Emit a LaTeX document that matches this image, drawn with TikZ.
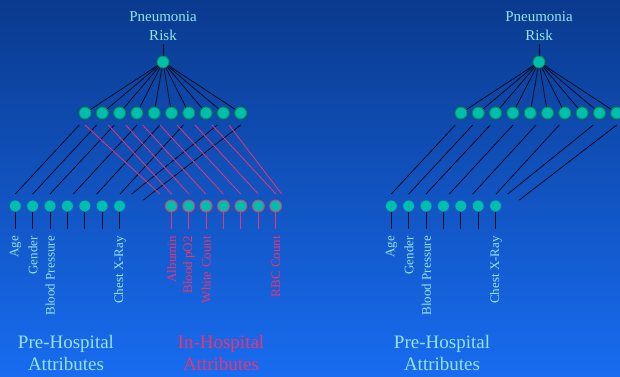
\documentclass[tikz,border=0pt]{standalone}
\usepackage{fontspec}
\setmainfont{Liberation Serif}

\definecolor{bgtop}{RGB}{10,58,142}
\definecolor{bgbot}{RGB}{24,108,240}
\definecolor{unitfill}{RGB}{0,190,172}
\definecolor{hidring}{RGB}{10,140,70}
\definecolor{inring}{RGB}{25,95,190}
\definecolor{rose}{RGB}{236,52,112}
\definecolor{aqua}{RGB}{150,228,236}
\definecolor{wirecol}{RGB}{5,10,35}

\tikzset{
  unit/.style={circle, fill=unitfill, minimum size=12pt, inner sep=0pt, line width=0.9pt},
  hid/.style={unit, draw=hidring},
  pre/.style={unit, draw=inring},
  inh/.style={unit, draw=rose},
  wire/.style={draw=wirecol, line width=0.8pt},
  stub/.style={draw=wirecol, line width=1.1pt},
  rosewire/.style={draw=rose, line width=0.8pt},
  rosestub/.style={draw=rose, line width=1.1pt},
  title/.style={text=aqua, align=center, inner sep=0pt, font=\fontsize{15}{19}\selectfont},
  attr/.style={rotate=90, anchor=east, inner sep=0pt, font=\fontsize{13}{15}\selectfont},
  group/.style={align=center, inner sep=0pt, font=\fontsize{19}{22}\selectfont},
}

\begin{document}
\begin{tikzpicture}[x=1pt,y=-1pt]
  % backdrop
  \shade[top color=bgtop, bottom color=bgbot] (0,0) rectangle (620,376);
  \useasboundingbox (0,0) rectangle (620,376);

  % two networks: with in-hospital inputs (L) and pre-hospital only (R)
  \foreach \p/\dx in {L/0, R/376} {
    \begin{scope}[xshift=\dx pt]
      % output unit and its label
      \node[title] (\p title) at (163,26) {Pneumonia\\Risk};
      \node[hid] (\p t) at (163,62) {};
      \coordinate (\p tt) at (163,44);
      \draw[wire] (\p t) -- (\p tt);

      % hidden layer
      \foreach \k in {1,...,10} {
        \node[hid] (\p h\k) at ({85+17.3*(\k-1)},113) {};
        \draw[wire] (\p t) -- (\p h\k);
      }

      % pre-hospital inputs with their stubs
      \foreach \k in {1,...,7} {
        \node[pre] (\p i\k) at ({15.3+17.38*(\k-1)},206) {};
        \coordinate (\p s\k) at ({15.3+17.38*(\k-1)},229);
        \draw[stub] (\p i\k) -- (\p s\k);
      }

      % loose weights running down-left
      \foreach \a/\b/\y [count=\n] in {79.3/15.3/194, 96.7/32.7/194, 114.3/50/194,
          137/73.3/194, 160/96.7/194, 183.3/120/194, 217.3/131.7/194, 240.7/143.3/200} {
        \coordinate (\p wa\n) at (\a,125);
        \coordinate (\p wb\n) at (\b,\y);
        \draw[wire] (\p wa\n) -- (\p wb\n);
      }

      % input labels
      \node[attr, text=aqua] (\p age) at (15.6,236) {Age};
      \node[attr, text=aqua] (\p gen) at (33,236) {Gender};
      \node[attr, text=aqua] (\p bp)  at (50.3,236) {Blood Pressure};
      \node[attr, text=aqua] (\p cx)  at (120,236) {Chest X-Ray};

      \node[group, text=aqua] (\p grp) at (66,352.5) {Pre-Hospital\\Attributes};
    \end{scope}
  }

  % in-hospital inputs (left network only)
  \foreach \k in {1,...,7} {
    \node[inh] (m\k) at ({171.3+17.4*(\k-1)},206) {};
    \coordinate (ms\k) at ({171.3+17.4*(\k-1)},229);
    \draw[rosestub] (m\k) -- (ms\k);
  }

  % loose weights running down-right
  \foreach \a/\b [count=\n] in {85/160, 108.3/171.7, 125.7/189, 142.7/205.7, 160/223.3,
      177/240.7, 195/258.3, 212/276, 229/281.7} {
    \coordinate (ra\n) at (\a,125);
    \coordinate (rb\n) at (\b,194);
    \draw[rosewire] (ra\n) -- (rb\n);
  }

  \node[attr, text=rose] (alb) at (171.6,236) {Albumin};
  \node[attr, text=rose] (po2) at (189,236) {Blood pO2};
  \node[attr, text=rose] (wbc) at (206.3,236) {White Count};
  \node[attr, text=rose] (rbc) at (276,236) {RBC Count};

  \node[group, text=rose] (ingrp) at (221,352.5) {In-Hospital\\Attributes};
\end{tikzpicture}
\end{document}
